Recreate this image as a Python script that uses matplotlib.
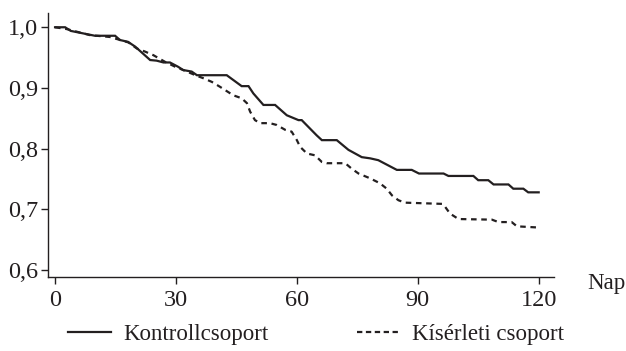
import matplotlib
matplotlib.use("Agg")
import matplotlib.pyplot as plt
from matplotlib.lines import Line2D

plt.rcParams['font.family'] = ['Liberation Serif', 'DejaVu Serif']

# Control group (solid)
ctrl_days = [0, 2.5, 3.9, 6.9, 9.9, 14.9, 16.1, 18.1, 19.9, 23.6, 25.2, 26.9, 28.5, 30.5,
             31.8, 33.9, 35.2, 42.6, 46.3, 48.0, 49.2, 51.7, 54.6, 57.5, 60.4, 61.2,
             64.9, 66.2, 69.9, 72.8, 76.1, 78.2, 80.2, 84.8, 88.5, 90.3, 96.4, 97.6,
             103.8, 105.0, 107.5, 108.8, 112.5, 113.7, 116.2, 117.4, 120]
ctrl_vals = [1.0, 1.0, 0.994, 0.990, 0.986, 0.986, 0.979, 0.976, 0.968, 0.946, 0.945, 0.942, 0.942, 0.935,
             0.9295, 0.927, 0.921, 0.921, 0.903, 0.903, 0.891, 0.872, 0.872, 0.855, 0.847, 0.847,
             0.822, 0.814, 0.814, 0.798, 0.786, 0.784, 0.781, 0.765, 0.765, 0.759, 0.759, 0.755,
             0.755, 0.748, 0.748, 0.741, 0.741, 0.734, 0.734, 0.728, 0.728]

# Experimental group (dashed)
exp_days = [0, 2.9, 8.7, 13.6, 18.2, 20.3, 22.3, 24.4, 27.3, 29.8, 32.7, 35.2, 36.8, 38.9,
            40.9, 44.2, 46.3, 47.6, 48.4, 49.6, 50.9, 53.3, 55.0, 57.1, 58.7, 60.0, 60.8,
            62.5, 64.5, 66.2, 67.4, 72.0, 73.6, 75.3, 78.2, 80.6, 82.3, 83.6, 85.2, 86.8,
            96.0, 96.8, 98.0, 100.1, 108.4, 110.0, 113.3, 114.6, 120]
exp_vals = [1.0, 0.997, 0.987, 0.984, 0.975, 0.965, 0.960, 0.954, 0.943, 0.935, 0.927, 0.920, 0.916, 0.910,
            0.902, 0.888, 0.883, 0.875, 0.861, 0.847, 0.842, 0.842, 0.839, 0.831, 0.828, 0.814, 0.803,
            0.792, 0.789, 0.778, 0.776, 0.776, 0.767, 0.759, 0.751, 0.743, 0.734, 0.723, 0.715, 0.711,
            0.709, 0.704, 0.693, 0.684, 0.683, 0.679, 0.679, 0.672, 0.670]

x_ticks = [0, 30, 60, 90, 120]
y_ticks = [0.6, 0.7, 0.8, 0.9, 1.0]
y_labels = ['0,6', '0,7', '0,8', '0,9', '1,0']
legend_labels = ['Kontrollcsoport', 'Kísérleti csoport']
x_label = 'Nap'

fig = plt.figure(figsize=(6.26, 3.51), dpi=100)
ax = fig.add_axes([48/626, 1 - 277/351, (554-48)/626, (277-12.7)/351])

col = '#231f20'
ax.plot(ctrl_days, ctrl_vals, color=col, lw=1.6, solid_joinstyle='miter')
ax.plot(exp_days, exp_vals, color=col, lw=1.6, linestyle=(0, (2.5, 2.1)))

ax.set_xlim(-1.75, 123.8)
ax.set_ylim(0.5885, 1.024)
ax.set_xticks(x_ticks)
ax.set_xticklabels([str(t) for t in x_ticks])
ax.set_yticks(y_ticks)
ax.set_yticklabels(y_labels)

for s in ['top', 'right']:
    ax.spines[s].set_visible(False)
for s in ['left', 'bottom']:
    ax.spines[s].set_linewidth(1.0)
    ax.spines[s].set_color(col)

ax.tick_params(axis='both', length=5, width=1.0, color=col, labelsize=17.5, labelcolor=col)
ax.tick_params(axis='x', pad=4.5)
ax.tick_params(axis='y', pad=2)

fig.text(587/626, 1 - 283/351, x_label, fontsize=16.5, color=col, ha='left', va='center')

handles = [Line2D([], [], color=col, lw=1.6),
           Line2D([], [], color=col, lw=1.6, linestyle=(0, (2.4, 1.6)))]
fig.legend(handles, legend_labels, loc='center', bbox_to_anchor=(0.505, 1 - 334/351), ncol=2,
           frameon=False, fontsize=16.5, handlelength=1.9, handletextpad=0.5, columnspacing=3.9,
           labelcolor=col)

fig.savefig('out.png', dpi=100)
